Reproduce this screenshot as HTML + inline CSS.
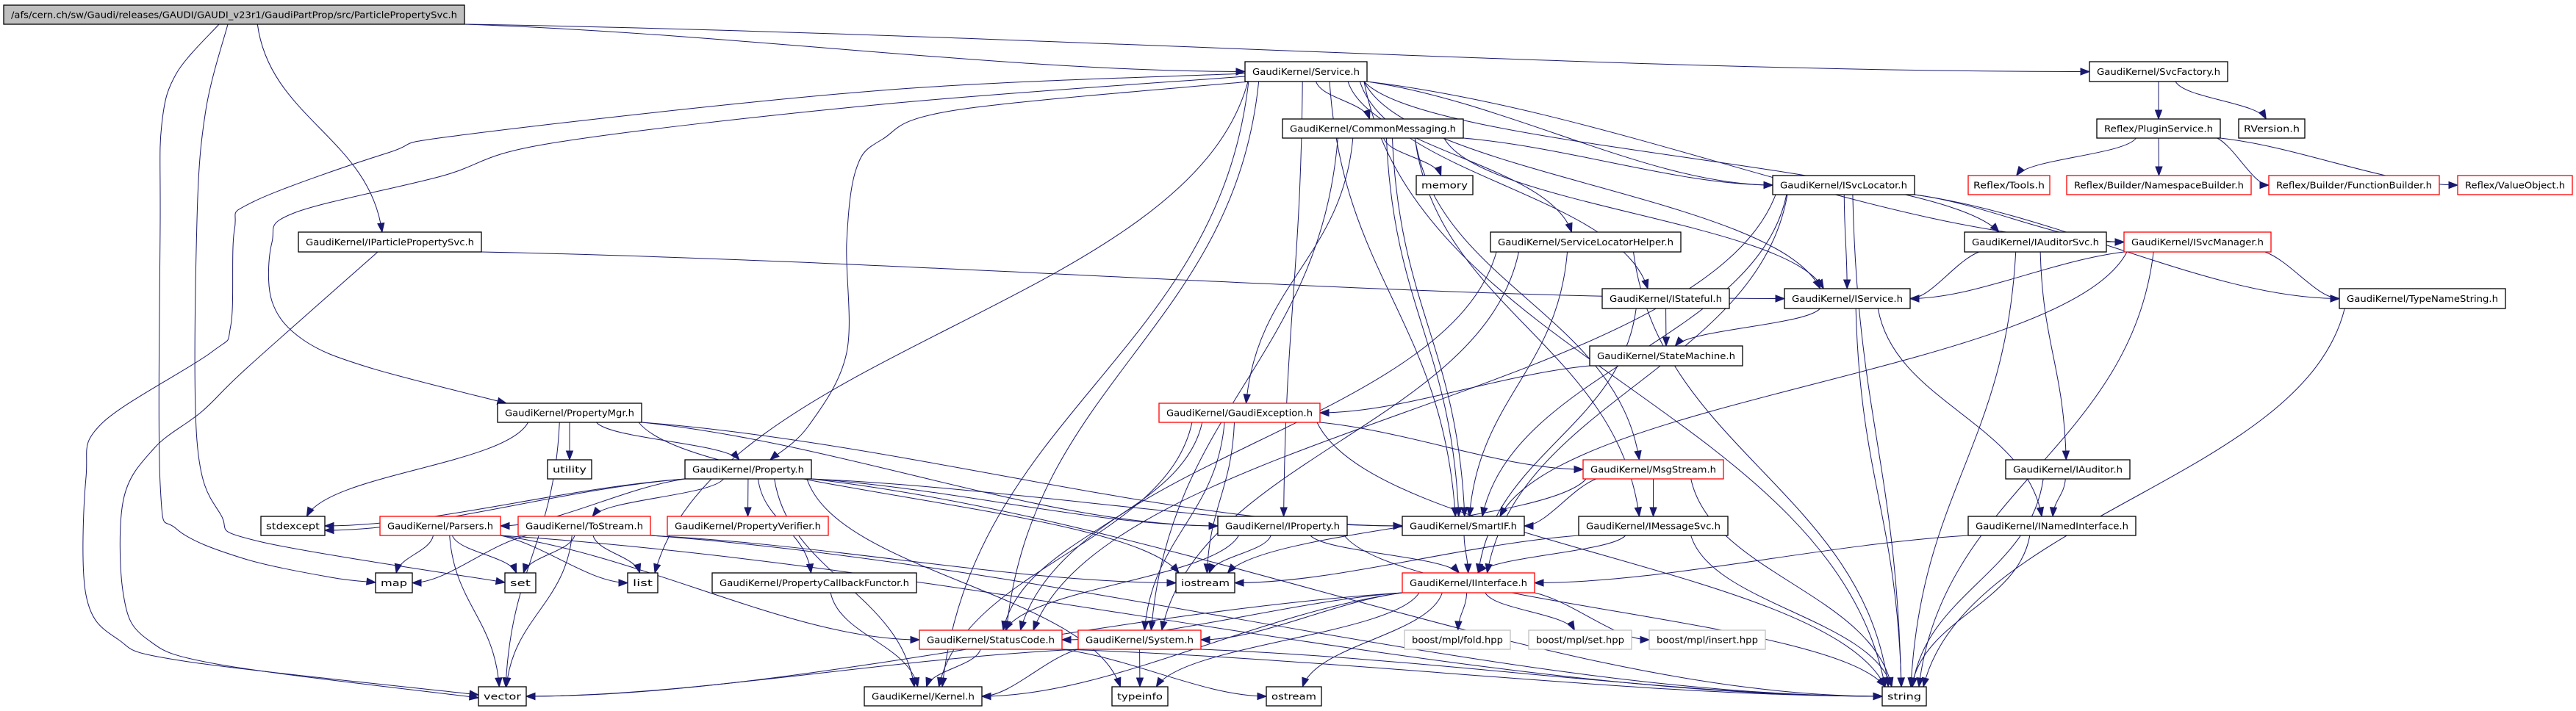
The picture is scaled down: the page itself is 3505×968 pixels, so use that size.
<!DOCTYPE html>
<html><head><meta charset="utf-8"><style>
html,body{margin:0;padding:0;background:#fff;}
svg{display:block;}
text{font-family:"DejaVu Sans","Liberation Sans",sans-serif;font-size:12px;fill:#000;}
</style></head><body>
<svg id="s" width="3505" height="968" viewBox="0 0 3505 968" xmlns="http://www.w3.org/2000/svg">
<g id="edges" fill="none" stroke="#191970" stroke-width="1"></g>
<g id="heads" fill="#191970" stroke="#191970"></g>
<g id="nodes" stroke-width="1.3">
<g id="root"><rect x="5" y="7" width="627" height="26" fill="#bfbfbf" stroke="#000"/><text>/afs/cern.ch/sw/Gaudi/releases/GAUDI/GAUDI_v23r1/GaudiPartProp/src/ParticlePropertySvc.h</text></g>
<g id="ipps"><rect x="406" y="316" width="249" height="27" fill="#fff" stroke="#000"/><text>GaudiKernel/IParticlePropertySvc.h</text></g>
<g id="svc"><rect x="1694" y="84" width="166" height="27" fill="#fff" stroke="#000"/><text>GaudiKernel/Service.h</text></g>
<g id="cm"><rect x="1745" y="162" width="246" height="26" fill="#fff" stroke="#000"/><text>GaudiKernel/CommonMessaging.h</text></g>
<g id="mem"><rect x="1927" y="239" width="77" height="26" fill="#fff" stroke="#000"/><text>memory</text></g>
<g id="slh"><rect x="2028" y="316" width="259" height="27" fill="#fff" stroke="#000"/><text>GaudiKernel/ServiceLocatorHelper.h</text></g>
<g id="ist"><rect x="2180" y="393" width="173" height="27" fill="#fff" stroke="#000"/><text>GaudiKernel/IStateful.h</text></g>
<g id="sm"><rect x="2163" y="471" width="208" height="27" fill="#fff" stroke="#000"/><text>GaudiKernel/StateMachine.h</text></g>
<g id="fac"><rect x="2843" y="84" width="188" height="27" fill="#fff" stroke="#000"/><text>GaudiKernel/SvcFactory.h</text></g>
<g id="plg"><rect x="2853" y="162" width="168" height="26" fill="#fff" stroke="#000"/><text>Reflex/PluginService.h</text></g>
<g id="rv"><rect x="3046" y="162" width="90" height="26" fill="#fff" stroke="#000"/><text>RVersion.h</text></g>
<g id="isl"><rect x="2412" y="239" width="193" height="26" fill="#fff" stroke="#000"/><text>GaudiKernel/ISvcLocator.h</text></g>
<g id="tools"><rect x="2678" y="239" width="111" height="26" fill="#fff" stroke="#f00"/><text>Reflex/Tools.h</text></g>
<g id="nsb"><rect x="2812" y="239" width="251" height="26" fill="#fff" stroke="#f00"/><text>Reflex/Builder/NamespaceBuilder.h</text></g>
<g id="fb"><rect x="3087" y="239" width="232" height="26" fill="#fff" stroke="#f00"/><text>Reflex/Builder/FunctionBuilder.h</text></g>
<g id="vo"><rect x="3344" y="239" width="156" height="26" fill="#fff" stroke="#f00"/><text>Reflex/ValueObject.h</text></g>
<g id="ias"><rect x="2673" y="316" width="193" height="27" fill="#fff" stroke="#000"/><text>GaudiKernel/IAuditorSvc.h</text></g>
<g id="ism"><rect x="2890" y="316" width="200" height="27" fill="#fff" stroke="#f00"/><text>GaudiKernel/ISvcManager.h</text></g>
<g id="isv"><rect x="2428" y="393" width="171" height="27" fill="#fff" stroke="#000"/><text>GaudiKernel/IService.h</text></g>
<g id="tns"><rect x="3183" y="393" width="226" height="27" fill="#fff" stroke="#000"/><text>GaudiKernel/TypeNameString.h</text></g>
<g id="pm"><rect x="677" y="549" width="196" height="26" fill="#fff" stroke="#000"/><text>GaudiKernel/PropertyMgr.h</text></g>
<g id="util"><rect x="745" y="626" width="60" height="26" fill="#fff" stroke="#000"/><text>utility</text></g>
<g id="prop"><rect x="932" y="626" width="172" height="26" fill="#fff" stroke="#000"/><text>GaudiKernel/Property.h</text></g>
<g id="stdx"><rect x="355" y="703" width="87" height="26" fill="#fff" stroke="#000"/><text>stdexcept</text></g>
<g id="pars"><rect x="517" y="703" width="164" height="26" fill="#fff" stroke="#f00"/><text>GaudiKernel/Parsers.h</text></g>
<g id="tos"><rect x="705" y="703" width="180" height="26" fill="#fff" stroke="#f00"/><text>GaudiKernel/ToStream.h</text></g>
<g id="pver"><rect x="908" y="703" width="219" height="26" fill="#fff" stroke="#f00"/><text>GaudiKernel/PropertyVerifier.h</text></g>
<g id="map"><rect x="511" y="780" width="50" height="27" fill="#fff" stroke="#000"/><text>map</text></g>
<g id="set"><rect x="687" y="780" width="42" height="27" fill="#fff" stroke="#000"/><text>set</text></g>
<g id="list"><rect x="854" y="780" width="41" height="27" fill="#fff" stroke="#000"/><text>list</text></g>
<g id="pcf"><rect x="969" y="780" width="278" height="27" fill="#fff" stroke="#000"/><text>GaudiKernel/PropertyCallbackFunctor.h</text></g>
<g id="vec"><rect x="651" y="935" width="65" height="26" fill="#fff" stroke="#000"/><text>vector</text></g>
<g id="gex"><rect x="1577" y="549" width="219" height="26" fill="#fff" stroke="#f00"/><text>GaudiKernel/GaudiException.h</text></g>
<g id="msg"><rect x="2154" y="626" width="191" height="26" fill="#fff" stroke="#f00"/><text>GaudiKernel/MsgStream.h</text></g>
<g id="iprop"><rect x="1657" y="703" width="176" height="26" fill="#fff" stroke="#000"/><text>GaudiKernel/IProperty.h</text></g>
<g id="sif"><rect x="1908" y="703" width="166" height="26" fill="#fff" stroke="#000"/><text>GaudiKernel/SmartIF.h</text></g>
<g id="ims"><rect x="2148" y="703" width="203" height="26" fill="#fff" stroke="#000"/><text>GaudiKernel/IMessageSvc.h</text></g>
<g id="ios"><rect x="1600" y="780" width="80" height="27" fill="#fff" stroke="#000"/><text>iostream</text></g>
<g id="iif"><rect x="1908" y="780" width="180" height="27" fill="#fff" stroke="#f00"/><text>GaudiKernel/IInterface.h</text></g>
<g id="sc"><rect x="1251" y="858" width="194" height="26" fill="#fff" stroke="#f00"/><text>GaudiKernel/StatusCode.h</text></g>
<g id="sys"><rect x="1467" y="858" width="167" height="26" fill="#fff" stroke="#f00"/><text>GaudiKernel/System.h</text></g>
<g id="bf"><rect x="1911" y="858" width="144" height="26" fill="#fff" stroke="#bfbfbf"/><text>boost/mpl/fold.hpp</text></g>
<g id="bs"><rect x="2080" y="858" width="140" height="26" fill="#fff" stroke="#bfbfbf"/><text>boost/mpl/set.hpp</text></g>
<g id="bi"><rect x="2244" y="858" width="158" height="26" fill="#fff" stroke="#bfbfbf"/><text>boost/mpl/insert.hpp</text></g>
<g id="kern"><rect x="1176" y="935" width="160" height="26" fill="#fff" stroke="#000"/><text>GaudiKernel/Kernel.h</text></g>
<g id="ti"><rect x="1513" y="935" width="76" height="26" fill="#fff" stroke="#000"/><text>typeinfo</text></g>
<g id="os"><rect x="1723" y="935" width="75" height="26" fill="#fff" stroke="#000"/><text>ostream</text></g>
<g id="iaud"><rect x="2729" y="626" width="169" height="26" fill="#fff" stroke="#000"/><text>GaudiKernel/IAuditor.h</text></g>
<g id="ini"><rect x="2678" y="703" width="228" height="26" fill="#fff" stroke="#000"/><text>GaudiKernel/INamedInterface.h</text></g>
<g id="str"><rect x="2561" y="935" width="60" height="26" fill="#fff" stroke="#000"/><text>string</text></g>
</g>
</svg>
<script>
(function(){
var NS="http://www.w3.org/2000/svg",N={};
var gs=document.querySelectorAll('#nodes > g');
for(var i=0;i<gs.length;i++){
 var g=gs[i],r=g.querySelector('rect'),t=g.querySelector('text');
 var x=+r.getAttribute('x'),y=+r.getAttribute('y'),w=+r.getAttribute('width'),h=+r.getAttribute('height');
 N[g.id]={x1:x,y1:y,x2:x+w,y2:y+h,cx:x+w/2,cy:y+h/2};
 t.setAttribute('x',x+w/2);t.setAttribute('y',y+h/2+4.5);t.setAttribute('text-anchor','middle');
 var pad=w>120?10:7;t.setAttribute('textLength',w-2*pad);t.setAttribute('lengthAdjust','spacingAndGlyphs');
}
function cl(v,a,b){return Math.max(a,Math.min(b,v));}
var E=document.getElementById('edges'),H=document.getElementById('heads');
function head(ex,ey,px,py){
 var tx=ex-px,ty=ey-py,L=Math.sqrt(tx*tx+ty*ty)||1;tx/=L;ty/=L;
 var bx=ex-tx*12,by=ey-ty*12,nx=-ty*4.5,ny=tx*4.5;
 var q=document.createElementNS(NS,'polygon');
 q.setAttribute('points',ex+','+ey+' '+(bx+nx)+','+(by+ny)+' '+(bx-nx)+','+(by-ny));
 H.appendChild(q);
}
function route(P){
 var d='M'+P[0][0]+','+P[0][1];
 for(var i=0;i<P.length-1;i++){
  var p0=P[i-1]||P[i],p1=P[i],p2=P[i+1],p3=P[i+2]||P[i+1];
  var c1x=p1[0]+(p2[0]-p0[0])/6,c1y=p1[1]+(p2[1]-p0[1])/6;
  var c2x=p2[0]-(p3[0]-p1[0])/6,c2y=p2[1]-(p3[1]-p1[1])/6;
  d+=' C'+c1x+','+c1y+' '+c2x+','+c2y+' '+p2[0]+','+p2[1];
 }
 var p=document.createElementNS(NS,'path');p.setAttribute('d',d);E.appendChild(p);
 var n=P.length;head(P[n-1][0],P[n-1][1],P[n-2][0],P[n-2][1]);
}
function edge(a,b,off){
 off=off||0;var A=N[a],B=N[b];if(!A||!B)return;
 var sx,sy,ex,ey,c1x,c1y,c2x,c2y;
 var dx=B.cx-A.cx,dy=B.y1-A.y2;
 if(Math.abs(dx)>5*Math.max(dy,1)){
   sx=dx>0?cl(A.cx+dx*0.3,A.x1+5,A.x2):cl(A.cx+dx*0.3,A.x1,A.x2-5);sy=dy>0?A.y2:A.cy;
   if(dy<=0){sx=dx>0?A.x2:A.x1;}
   ex=dx>0?B.x1:B.x2;ey=B.cy+off;
   c1x=sx+(ex-sx)*0.35;c1y=sy+(ey-sy)*0.2;c2x=sx+(ex-sx)*0.7;c2y=ey;
 }else{
   sx=cl(A.cx+dx*0.15+off,A.x1+4,A.x2-4);sy=A.y2;
   ex=cl(B.cx-dx*0.05+off,B.x1+4,B.x2-4);ey=B.y1;
   var d=ey-sy;c1x=sx+(ex-sx)*0.1;c1y=sy+d*0.45;c2x=ex-(ex-sx)*0.1;c2y=ey-d*0.45;
 }
 var p=document.createElementNS(NS,'path');
 p.setAttribute('d','M'+sx+','+sy+' C'+c1x+','+c1y+' '+c2x+','+c2y+' '+ex+','+ey);
 E.appendChild(p);
 head(ex,ey,c2x,c2y);
}
/* custom routes matching the reference */
route([[1694,100],[1200,123],[635,183],[528,208],[344,275],[319,313],[314,443],[287,480],[138,577],[117,650],[117,810],[160,870],[250,900],[651,946]]);
route([[514,343],[337,500],[275,560],[210,610],[168,680],[168,810],[200,870],[300,905],[651,950]]);
route([[1694,104],[1200,142],[750,195],[600,240],[400,290],[370,330],[370,410],[413,463],[501,500],[689,549]]);
route([[298,33],[240,100],[220,170],[218,300],[218,660],[240,720],[330,760],[450,786],[511,793]]);
route([[310,33],[280,150],[268,300],[268,600],[300,700],[352,737],[687,793]]);
route([[1700,111],[1300,150],[1200,190],[1165,230],[1152,330],[1152,480],[1100,580],[1048,626]]);
var L=[
['root','svc'],['root','fac'],['root','ipps'],
['ipps','isv'],
['svc','cm'],['svc','isl'],['svc','isv'],['svc','ist'],['svc','slh'],['svc','sif'],['svc','ias'],['svc','ism'],['svc','list'],['svc','iprop'],['svc','str'],['svc','sc'],['svc','kern'],
['cm','mem'],['cm','isl'],['cm','isv'],['cm','gex'],['cm','sif'],['cm','sif',8],['cm','msg'],['cm','ims'],['cm','sys'],
['isl','isv'],['isl','ism'],['isl','tns'],['isl','iif'],['isl','sif'],['isl','sc'],['isl','str'],
['fac','plg'],['fac','rv'],
['plg','tools'],['plg','nsb'],['plg','fb'],['plg','vo'],
['ias','isv'],['ias','iaud'],['ias','str'],
['ism','isv'],['ism','tns'],['ism','sif'],['ism','str'],
['isv','ini'],['isv','str'],['isv','sm'],
['ist','sm'],['ist','iif'],
['sm','gex'],
['slh','sif'],['slh','sys'],['slh','sc'],['slh','str'],
['gex','ios'],['gex','sc'],['gex','sys'],['gex','msg'],['gex','str'],['gex','kern'],
['msg','ims'],['msg','sif'],['msg','ios'],['msg','str'],
['ims','iif'],['ims','ios'],['ims','str'],
['sif','iif'],
['iprop','iif'],['iprop','ios'],['iprop','str'],['iprop','sc'],
['iif','sc'],['iif','sys'],['iif','kern'],['iif','ti'],['iif','os'],['iif','bf'],['iif','bs'],['iif','bi'],['iif','vec'],
['iaud','ini'],['iaud','str'],
['ini','iif'],['ini','str'],
['tns','str'],
['pm','util'],['pm','prop'],['pm','stdx'],['pm','vec'],['pm','iprop'],['pm','ios'],['pm','sif'],
['prop','stdx'],['prop','stdx',6],['prop','pars'],['prop','tos'],['prop','pver'],['prop','pcf'],['prop','iprop'],['prop','sif'],['prop','str'],['prop','ti'],['prop','kern'],
['pars','map'],['pars','set'],['pars','list'],['pars','vec'],['pars','sc'],['pars','str'],
['tos','map'],['tos','set'],['tos','list'],['tos','vec'],['tos','ios'],['tos','str'],
['pcf','kern'],
['sc','kern'],['sc','os'],['sc','str'],
['sys','kern'],['sys','ti'],['sys','vec'],['sys','str']
];
for(var k=0;k<L.length;k++)edge(L[k][0],L[k][1],L[k][2]);
})();
</script>
</body></html>
